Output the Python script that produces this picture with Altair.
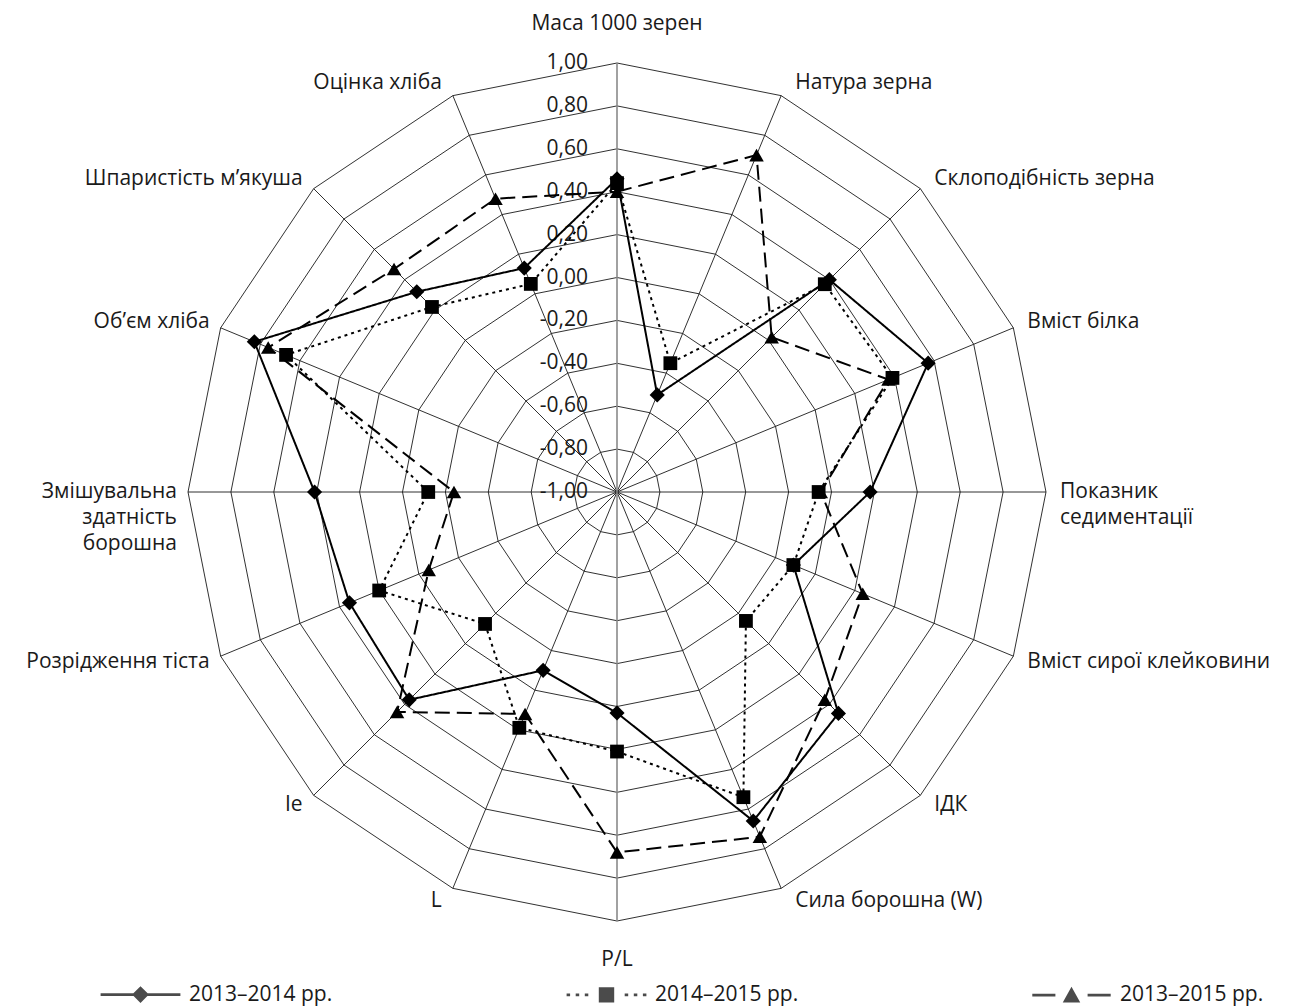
import altair as alt
import pandas as pd

# ---------------- data ----------------
categories = [
    "Маса 1000 зерен", "Натура зерна", "Склоподібність зерна", "Вміст білка",
    "Показник\nседиментації", "Вміст сирої клейковини", "ІДК", "Сила борошна (W)",
    "P/L", "L", "Ie", "Розрідження тіста", "Змішувальна\nздатність\nборошна",
    "Об’єм хліба", "Шпаристість м’якуша", "Оцінка хліба",
]
series_names = ["2013–2014 рр.", "2014–2015 рр.", "2013–2015 рр."]
s_2013_2014 = [0.46, -0.51, 0.40, 0.57, 0.18, -0.11, 0.46, 0.66, 0.03, -0.10, 0.37, 0.35, 0.41, 0.83, 0.32, 0.13]
s_2014_2015 = [0.44, -0.35, 0.37, 0.39, -0.06, -0.11, -0.15, 0.54, 0.21, 0.19, -0.13, 0.20, -0.12, 0.67, 0.22, 0.05]
s_2013_2015 = [0.40, 0.70, 0.02, 0.37, -0.05, 0.24, 0.37, 0.74, 0.68, 0.12, 0.45, -0.05, -0.24, 0.76, 0.47, 0.48]
tick_values = [1.0, 0.8, 0.6, 0.4, 0.2, 0.0, -0.2, -0.4, -0.6, -0.8, -1.0]
tick_labels = ["1,00", "0,80", "0,60", "0,40", "0,20", "0,00", "-0,20", "-0,40", "-0,60", "-0,80", "-1,00"]
grid_levels = [-0.8, -0.6, -0.4, -0.2, 0.0, 0.2, 0.4, 0.6, 0.8, 1.0]

# ---------------- layout ----------------
N = len(categories)
FONT = "Open Sans"
FS = 21
R_PX = 429.0
W, H = 1286, 998
CX, CY = 609, 484
XD = [-CX / R_PX, (W - CX) / R_PX]
YD = [-(H - CY) / R_PX, CY / R_PX]


def X(field="x"):
    return alt.X(f"{field}:Q", scale=alt.Scale(domain=XD, nice=False, zero=False), axis=None)


def Y(field="y"):
    return alt.Y(f"{field}:Q", scale=alt.Scale(domain=YD, nice=False, zero=False), axis=None)


THETA = f"2*PI*datum.k/{N}"

# tables
all_series = [s_2013_2014, s_2014_2015, s_2013_2015]
rows = []
for name, vals in zip(series_names, all_series):
    for j in range(N + 1):
        rows.append({"series": name, "j": j, "k": j % N, "value": vals[j % N]})
series_df = pd.DataFrame(rows)

grid_df = pd.DataFrame([{"level": lv, "j": j, "k": j % N} for lv in grid_levels for j in range(N + 1)])
spoke_df = pd.DataFrame({"k": list(range(N))})
label_df = pd.DataFrame({"k": list(range(N)), "label": categories})
tick_df = pd.DataFrame({"level": tick_values, "text": tick_labels})

# grid rings
rings = alt.Chart(grid_df).transform_calculate(
    theta=THETA, r="(datum.level+1)/2",
    x="datum.r*sin(datum.theta)", y="datum.r*cos(datum.theta)",
).mark_line(color="#1a1a1a", strokeWidth=0.9).encode(
    x=X(), y=Y(), order="j:Q", detail="level:N"
)

# spokes
spoke_base = alt.Chart(spoke_df).transform_calculate(
    theta=THETA, x0="0", y0="0",
    x="sin(datum.theta)", y="cos(datum.theta)",
)
spokes = spoke_base.transform_filter("datum.k % 8 != 0").mark_rule(
    color="#1a1a1a", strokeWidth=0.9
).encode(x=X("x0"), y=Y("y0"), x2="x:Q", y2="y:Q")
vaxis = spoke_base.transform_filter("datum.k % 8 == 0").mark_rule(
    color="#8a8a8a", strokeWidth=1.6
).encode(x=X("x0"), y=Y("y0"), x2="x:Q", y2="y:Q")

# radial tick labels
ticks = alt.Chart(tick_df).transform_calculate(
    x="0", y="(datum.level+1)/2"
).mark_text(
    align="right", baseline="middle", dx=-29, font=FONT, fontSize=FS, color="#1a1a1a"
).encode(x=X(), y=Y(), text="text:N")

# series
series_base = alt.Chart(series_df).transform_calculate(
    theta=THETA, r="(datum.value+1)/2",
    x="datum.r*sin(datum.theta)", y="datum.r*cos(datum.theta)",
)
dashes = [[1, 0], [3, 4], [15, 7]]
lines = []
for name, dash in zip(series_names, dashes):
    lines.append(
        series_base.transform_filter(f"datum.series == '{name}'")
        .mark_line(color="black", strokeWidth=2, strokeDash=dash)
        .encode(x=X(), y=Y(), order="j:Q")
    )


# legend symbols: line pieces drawn as thin filled bars around the marker
def bar(a, b, h=0.2):
    return f"M{a},{-h}L{b},{-h}L{b},{h}L{a},{h}Z"


legend_paths = [
    bar(-5.7, 5.7) + "M0,-1.2L1.2,0L0,1.2L-1.2,0Z",
    "".join(bar(a, a + 0.5) for a in [-5.7, -4.4, -3.1, 2.6, 3.9, 5.2]) + "M-1.1,-1.1L1.1,-1.1L1.1,1.1L-1.1,1.1Z",
    bar(-5.6, -2.3) + bar(2.3, 5.6) + "M0,-1.2L1.25,1.05L-1.25,1.05Z",
]
legend_layer = series_base.transform_filter("datum.j == 0").mark_point(
    filled=True, color="black", size=1
).encode(
    x=X(), y=Y(),
    shape=alt.Shape(
        "series:N",
        scale=alt.Scale(domain=series_names, range=legend_paths),
        legend=alt.Legend(
            title=None, orient="none", legendX=122, legendY=976, direction="horizontal",
            symbolSize=196, symbolFillColor="black", labelFont=FONT, labelFontSize=FS,
            labelColor="#1a1a1a", labelOffset=38, columnPadding=230, padding=0, labelLimit=400,
        ),
    ),
)

marker_specs = [
    (series_names[2], "triangle-up", 210),
    (series_names[0], "diamond", 230),
    (series_names[1], "square", 190),
]
markers = []
for name, shp, sz in marker_specs:
    markers.append(
        series_base.transform_filter(f"datum.series == '{name}' && datum.j < {N}")
        .mark_point(shape=shp, filled=True, color="black", size=sz, opacity=1)
        .encode(x=X(), y=Y())
    )

# category labels
lab_base = alt.Chart(label_df).transform_calculate(theta=THETA)
lab_right = lab_base.transform_filter(f"datum.k > 0 && datum.k < {N // 2}").transform_calculate(
    x="sin(datum.theta)", y=f"cos(datum.theta)*(1+14/{R_PX})"
).mark_text(
    align="left", baseline="middle", dx=14, font=FONT, fontSize=FS, color="#1a1a1a",
    lineBreak="\n", lineHeight=26,
).encode(x=X(), y=Y(), text="label:N")
lab_left = lab_base.transform_filter(f"datum.k > {N // 2}").transform_calculate(
    x="sin(datum.theta)", y=f"cos(datum.theta)*(1+14/{R_PX})"
).mark_text(
    align="right", baseline="middle", dx=-11, font=FONT, fontSize=FS, color="#1a1a1a",
    lineBreak="\n", lineHeight=26,
).encode(x=X(), y=Y(), text="label:N")
lab_center = lab_base.transform_filter(f"datum.k % {N // 2} == 0").transform_calculate(
    x="0", y=f"cos(datum.theta)*(1+39/{R_PX})"
).mark_text(
    align="center", baseline="middle", font=FONT, fontSize=FS, color="#1a1a1a",
).encode(x=X(), y=Y(), text="label:N")

chart = alt.layer(
    rings, spokes, vaxis, ticks, *lines, legend_layer, *markers, lab_right, lab_left, lab_center
).properties(
    width=W, height=H, autosize=alt.AutoSizeParams(type="none"), padding=0, background="white"
).configure_view(stroke=None)

chart.save("out.html", embed_options={"renderer": "svg", "actions": False})
